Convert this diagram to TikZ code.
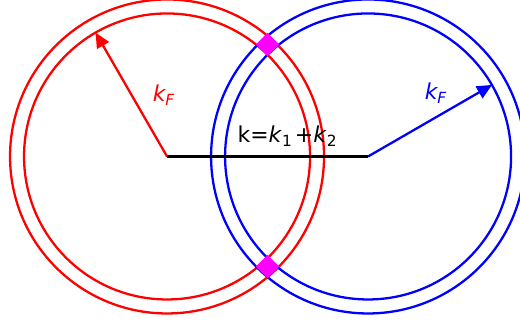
\documentclass[tikz,border=0pt]{standalone}
\usepackage{fontspec}
\setmainfont{DejaVu Sans}
\usetikzlibrary{arrows.meta,shapes.geometric,calc}

\definecolor{fuchsia}{RGB}{255,0,255}
\tikzset{
  shell/.style={line width=1.3pt},
  radius arrow/.style={line width=1.3pt, -{Triangle[length=0.3cm, width=0.27cm]}},
  overlap/.style={diamond, fill=fuchsia, inner sep=0pt, minimum width=0.47cm, minimum height=0.47cm},
  lbl/.style={font=\fontsize{12.5}{15}\selectfont, inner sep=1pt}
}

\begin{document}
\begin{tikzpicture}[scale=0.02]
  \useasboundingbox (0,0) rectangle (520,320);
  % Centres of the two Fermi spheres
  \coordinate (kone) at (167,163.5);
  \coordinate (ktwo) at (368,163.5);
  % Shells
  \draw[shell, red] (kone) circle (143);
  \draw[shell, red] (kone) circle (157);
  \draw[shell, blue] (ktwo) circle (143);
  \draw[shell, blue] (ktwo) circle (157);
  % Total momentum
  \draw[line width=1.8pt] (kone) -- (ktwo);
  \node[lbl] (ksum) at (287.5,184) {k=\textit{k}\textsubscript{1}\kern0.1em+\textit{k}\textsubscript{2}};
  % Fermi momenta
  \coordinate (kfone) at ($(kone)+(120:143)$);
  \coordinate (kftwo) at ($(ktwo)+(30:143)$);
  \draw[radius arrow, red] (kone) -- (kfone);
  \draw[radius arrow, blue] (ktwo) -- (kftwo);
  \node[lbl, red] (kflabelone) at (164,225) {\textit{k\textsubscript{F}}};
  \node[lbl, blue] (kflabeltwo) at (436,227) {\textit{k\textsubscript{F}}};
  % Overlap of the shells
  \node[overlap] (top) at (267.5,275.5) {};
  \node[overlap] (bottom) at (267.5,53.5) {};
\end{tikzpicture}
\end{document}
